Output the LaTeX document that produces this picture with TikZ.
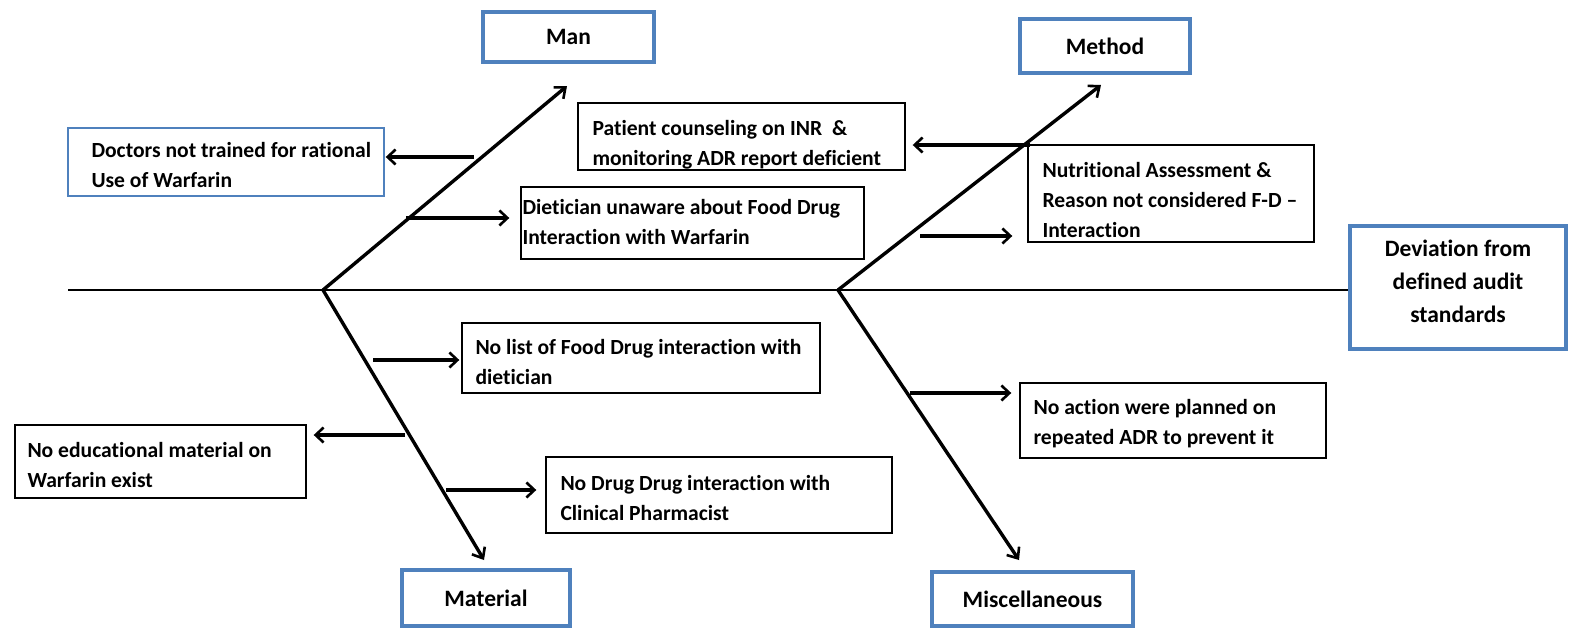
\documentclass[tikz,border=0pt]{standalone}
\usepackage{fontspec}
\setmainfont{Carlito}[Ligatures=NoCommon]
\usetikzlibrary{arrows.meta}
\definecolor{oblue}{RGB}{79,129,189}
\begin{document}
\begin{tikzpicture}[x=1pt,y=-1pt,
  every node/.style={font=\bfseries\fontsize{21.6}{30}\selectfont},
  head/.style={draw=oblue, line width=4pt, inner sep=0pt, align=center, font=\bfseries\fontsize{23.5}{33}\selectfont},
  cause/.style={draw=black, line width=1.4pt, inner sep=0pt},
  ctext/.style={anchor=west, inner sep=0pt, align=left},
  bone/.style={line width=3.4pt, -{Straight Barb[length=9pt,width=15pt,line width=2.6pt]}},
  sub/.style={line width=3.4pt, -{Straight Barb[length=8pt,width=15pt,line width=2.6pt]}},
  spine/.style={line width=1.4pt}
]
\useasboundingbox (0,0) rectangle (1570,629);

% heads
\node[head, minimum width=171pt, minimum height=50pt] (man) at (568.5,37) {Man};
\node[head, minimum width=170pt, minimum height=54pt] (method) at (1105,46) {Method};
\node[head, minimum width=216pt, minimum height=123pt, text depth=12pt] (dev) at (1458,287.5) {Deviation from\\defined audit\\standards};
\node[head, minimum width=168pt, minimum height=56pt] (material) at (486,598) {Material};
\node[head, minimum width=201pt, minimum height=54pt] (misc) at (1032.5,599) {Miscellaneous};

% cause boxes
\node[cause, draw=oblue, minimum width=316pt, minimum height=68pt] (doctors) at (226,162) {};
\node[cause, minimum width=343pt, minimum height=72pt] (diet) at (692.5,223) {};
\node[cause, minimum width=327pt, minimum height=67pt] (patient) at (741.5,136.5) {};
\node[cause, minimum width=286pt, minimum height=97pt] (nutr) at (1171,193.5) {};
\node[cause, minimum width=358pt, minimum height=70pt] (nolist) at (641,358) {};
\node[cause, minimum width=291pt, minimum height=73pt] (noedu) at (160.5,461.5) {};
\node[cause, minimum width=346pt, minimum height=76pt] (nodd) at (719,495) {};
\node[cause, minimum width=306pt, minimum height=75pt] (noact) at (1173,420.5) {};

% cause texts
\node[ctext] (doctors-t) at ([xshift=24pt,yshift=-3pt]doctors.west) {Doctors not trained for rational\\Use of Warfarin};
\node[ctext] (diet-t) at ([xshift=2pt,yshift=1pt]diet.west) {Dietician unaware about Food Drug\\Interaction with Warfarin};
\node[ctext] (patient-t) at ([xshift=15pt,yshift=-8pt]patient.west) {Patient counseling on INR~~\&\\monitoring ADR report deficient};
\node[ctext] (nutr-t) at ([xshift=15pt,yshift=-6pt]nutr.west) {Nutritional Assessment \&\\Reason not considered F-D --\\Interaction};
\node[ctext] (nolist-t) at ([xshift=14pt,yshift=-4pt]nolist.west) {No list of Food Drug interaction with\\dietician};
\node[ctext] (noedu-t) at ([xshift=13pt,yshift=-3pt]noedu.west) {No educational material on\\Warfarin exist};
\node[ctext] (nodd-t) at ([xshift=15pt,yshift=-3pt]nodd.west) {No Drug Drug interaction with\\Clinical Pharmacist};
\node[ctext] (noact-t) at ([xshift=14pt,yshift=-3pt]noact.west) {No action were planned on\\repeated ADR to prevent it};

% spine
\coordinate (sL) at (68,290);
\draw[spine] (sL) -- (dev.west |- sL);

% bones
\coordinate (r1) at (323,290);
\coordinate (r2) at (838,290);
\coordinate (t1) at (567,86);
\coordinate (t2) at (1101,85);
\coordinate (t3) at (484,560);
\coordinate (t4) at (1019,560);
\draw[bone] (r1) -- (t1);
\draw[bone] (r2) -- (t2);
\draw[bone] (r1) -- (t3);
\draw[bone] (r2) -- (t4);

% sub arrows
\coordinate (a1) at (474,157);
\coordinate (a2) at (406,218);
\coordinate (a3) at (1030,145);
\coordinate (a4) at (920,236);
\coordinate (a5) at (373,360);
\coordinate (a6) at (405,435);
\coordinate (a7) at (446,490);
\coordinate (a8) at (910,393);
\draw[sub, shorten >=1pt] (a1) -- (a1 -| doctors.east);
\draw[sub, shorten >=11pt] (a2) -- (a2 -| diet.west);
\draw[sub, shorten >=7pt] (a3) -- (a3 -| patient.east);
\draw[sub, shorten >=15pt] (a4) -- (a4 -| nutr.west);
\draw[sub, shorten >=2pt] (a5) -- (a5 -| nolist.west);
\draw[sub, shorten >=7pt] (a6) -- (a6 -| noedu.east);
\draw[sub, shorten >=9pt] (a7) -- (a7 -| nodd.west);
\draw[sub, shorten >=8pt] (a8) -- (a8 -| noact.west);
\end{tikzpicture}
\end{document}
